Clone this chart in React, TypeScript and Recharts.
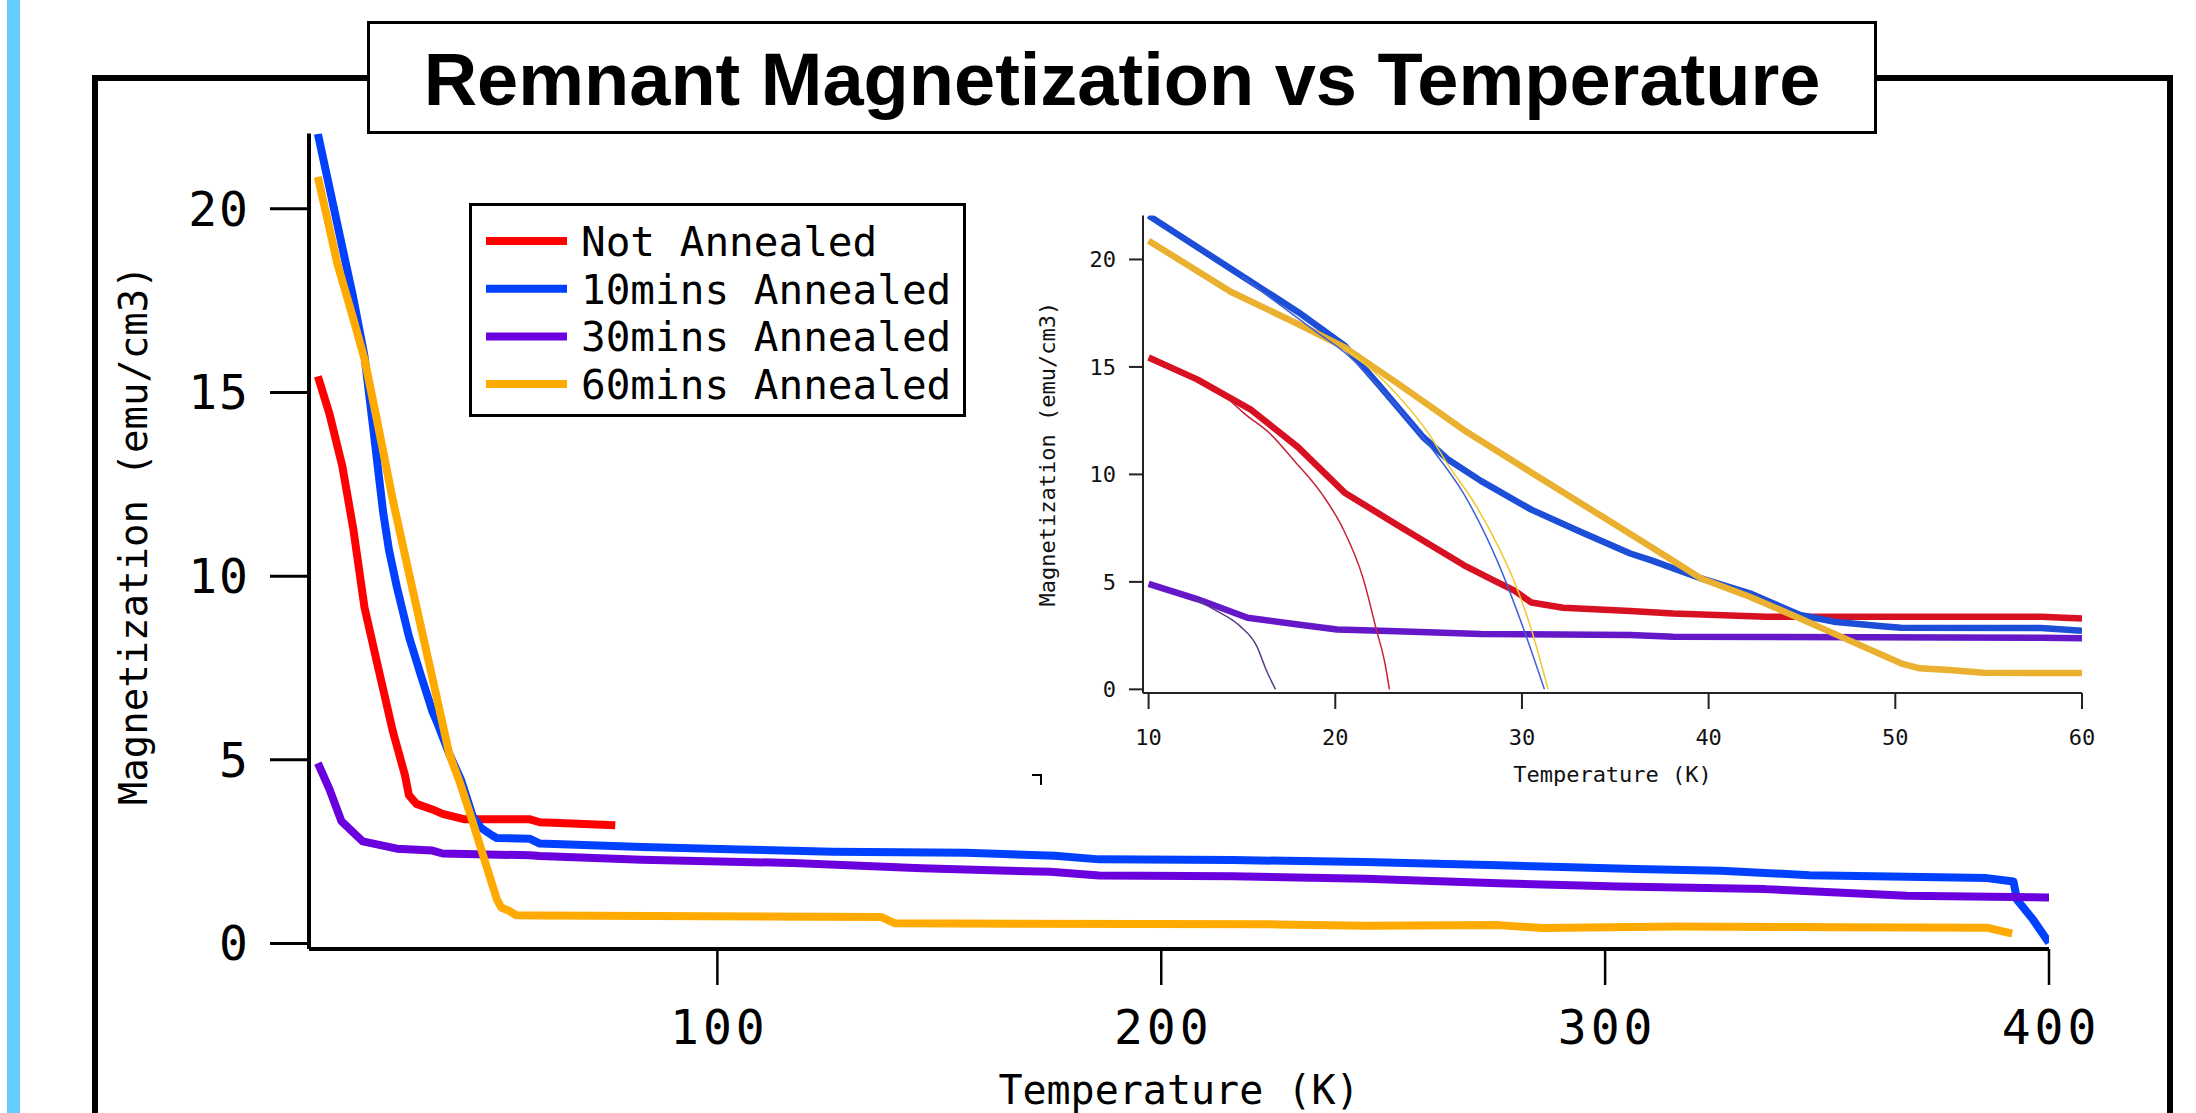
import React from 'react';
import { LineChart, Line, XAxis, YAxis, Legend } from 'recharts';

// ---------- data (temperature K, magnetization emu/cm3) ----------
const seriesNames = ['Not Annealed', '10mins Annealed', '30mins Annealed', '60mins Annealed'];

const notAnnealedT = [10, 12.6, 15.5, 18, 20.5, 23.3, 26.9, 28.7, 29.6, 30.5, 32.2, 35.8, 38.1, 43.1, 57.8, 60, 77];
const notAnnealedM = [15.44, 14.42, 13.0, 11.27, 9.15, 7.66, 5.77, 4.98, 4.59, 4.04, 3.8, 3.65, 3.53, 3.38, 3.38, 3.3, 3.22];

const tenMinT = [10, 14.9, 18, 20.5, 22.4, 24.7, 26, 27.8, 30.5, 33.1, 35.8, 36.9, 39.6, 42.2, 44.9, 46.7, 49.3, 50.3, 57.8, 60,
  83, 105, 126, 156, 176, 186, 216, 246, 276, 307, 326, 346, 386, 392, 392.8, 396.4, 400];
const tenMinM = [22.04, 19.29, 17.56, 15.99, 14.1, 11.74, 10.72, 9.7, 8.36, 7.34, 6.32, 6.01, 5.16, 4.47, 3.46, 3.15, 2.94, 2.87, 2.85, 2.72,
  2.63, 2.56, 2.5, 2.47, 2.39, 2.29, 2.27, 2.22, 2.13, 2.03, 1.98, 1.86, 1.78, 1.69, 1.19, 0.65, 0.02];

const thirtyMinT = [10, 12.6, 15.3, 18, 20.1, 23.3, 27.8, 35.8, 38.1, 57.8, 60, 83, 117, 146, 175, 186, 216, 246, 276, 303, 336, 368, 400.5];
const thirtyMinM = [4.91, 4.2, 3.33, 3.02, 2.78, 2.7, 2.58, 2.53, 2.45, 2.4, 2.38, 2.28, 2.19, 2.05, 1.95, 1.85, 1.83, 1.76, 1.64, 1.55, 1.48, 1.3, 1.25];

const sixtyMinT = [10, 14.4, 18, 20.5, 23.3, 26.9, 30.5, 34.0, 36.9, 39.6, 42.2, 44.9, 47.5, 50.3, 51.3, 52.9, 54.7, 60,
  137, 140, 226, 246, 276, 286, 316, 386, 391.7];
const sixtyMinM = [20.87, 18.5, 17.0, 15.91, 14.26, 12.06, 10.09, 8.2, 6.63, 5.16, 4.31, 3.3, 2.29, 1.21, 0.98, 0.9, 0.77, 0.76,
  0.72, 0.55, 0.52, 0.48, 0.5, 0.42, 0.46, 0.43, 0.27];

// thin extrapolation curves shown only in the inset
const fitRedT = [14.4, 15.1, 16.5, 17.8, 19.3, 20.4, 21.5, 22.2, 22.66, 22.9];
const fitRedM = [13.4, 12.85, 11.9, 10.64, 9.07, 7.5, 5.14, 2.78, 1.21, 0];
const fitBlueT = [15, 19.0, 20.5, 23.3, 25.1, 26.9, 28.7, 30.1, 31.2];
const fitBlueM = [19.2, 16.62, 15.67, 13.16, 11.27, 9.07, 5.93, 2.78, 0];
const fitPurpleT = [12.5, 13.5, 14.9, 15.8, 16.3, 16.8];
const fitPurpleM = [4.2, 3.72, 2.94, 2.0, 0.9, 0];
const fitOrangeT = [20.5, 23, 25, 26, 27.5, 28.7, 29.5, 30.5, 31.4];
const fitOrangeM = [15.9, 14.0, 11.9, 10.5, 8.6, 6.7, 5.2, 2.8, 0];

const mainXTicks = [100, 200, 300, 400];
const mainYTicks = [0, 5, 10, 15, 20];
const insetXTicks = [10, 20, 30, 40, 50, 60];
const insetYTicks = [0, 5, 10, 15, 20];

const mainColors = ['#FF0000', '#0040FF', '#6A00DD', '#FFAA00'];
const insetColors = ['#D81122', '#1D4ED8', '#6418C8', '#EAB030'];
const fitColors = ['#C8203A', '#4060D8', '#5A3A8A', '#F0C830'];

const title = 'Remnant Magnetization vs Temperature';
const xLabel = 'Temperature (K)';
const yLabel = 'Magnetization (emu/cm3)';

// ---------- helpers ----------
const toPoints = (ts: number[], ms: number[]) => ts.map((t, i) => ({ t, m: ms[i] }));
const mainSeries = [
  toPoints(notAnnealedT, notAnnealedM),
  toPoints(tenMinT, tenMinM),
  toPoints(thirtyMinT, thirtyMinM),
  toPoints(sixtyMinT, sixtyMinM),
];
const insetSeries = mainSeries.map((s) => s.filter((p) => p.t <= 60));
const fitSeries = [
  toPoints(fitRedT, fitRedM),
  toPoints(fitBlueT, fitBlueM),
  toPoints(fitPurpleT, fitPurpleM),
  toPoints(fitOrangeT, fitOrangeM),
];

const MONO = '"DejaVu Sans Mono", "Liberation Mono", monospace';

const MainXTick = (props: any) => (
  <text x={props.x + 2} y={props.y} dy={35} textAnchor="middle" fontFamily={MONO} fontSize={48} letterSpacing={4} fill="#000">
    {props.payload.value}
  </text>
);
const MainYTick = (props: any) => (
  <text x={props.x} y={props.y} dy={17} textAnchor="end" fontFamily={MONO} fontSize={48} letterSpacing={2} fill="#000">
    {props.payload.value}
  </text>
);
const InsetXTick = (props: any) => (
  <text x={props.x} y={props.y} dy={16} textAnchor="middle" fontFamily={MONO} fontSize={22} fill="#111">
    {props.payload.value}
  </text>
);
const InsetYTick = (props: any) => (
  <text x={props.x} y={props.y} dy={8} textAnchor="end" fontFamily={MONO} fontSize={22} fill="#111">
    {props.payload.value}
  </text>
);

const makeXLabel = (size: number, off: number, fill: string) => (p: any) => {
  const vb = p.viewBox;
  return (
    <text x={vb.x + vb.width / 2} y={vb.y + off} textAnchor="middle" fontFamily={MONO} fontSize={size} fill={fill}>
      {xLabel}
    </text>
  );
};
const makeYLabel = (size: number, dyc: number, fill: string) => (p: any) => {
  const vb = p.viewBox;
  const cx = vb.x;
  const cy = vb.y + vb.height / 2 + dyc;
  return (
    <text x={cx} y={cy} transform={`rotate(-90 ${cx} ${cy})`} textAnchor="middle" dominantBaseline="central"
      fontFamily={MONO} fontSize={size} fill={fill}>
      {yLabel}
    </text>
  );
};

const LegendBox = (props: any) => {
  const payload = [...(props.payload || [])].sort(
    (a: any, b: any) => seriesNames.indexOf(a.value) - seriesNames.indexOf(b.value)
  );
  return (
    <svg width={497} height={214} style={{ display: 'block' }}>
      <rect x={1.5} y={1.5} width={494} height={211} fill="#fff" stroke="#000" strokeWidth={3} />
      {payload.map((e: any, i: number) => {
        const cy = 38 + i * 47.7;
        return (
          <g key={e.value}>
            <line x1={17} x2={98} y1={cy} y2={cy} stroke={e.color} strokeWidth={8} />
            <text x={112} y={cy + 15} fontFamily={MONO} fontSize={41} fill="#000">{e.value}</text>
          </g>
        );
      })}
    </svg>
  );
};

export default function App() {
  return (
    <div style={{ position: 'absolute', left: 0, top: 0, width: 2196, height: 1113, overflow: 'hidden', background: '#fff' }}>
      <div style={{ position: 'absolute', left: 7, top: 0, width: 13, height: 1113, background: '#66CCFF' }} />
      <div style={{ position: 'absolute', left: 92, top: 75, width: 2081, height: 1200, border: '6px solid #000', boxSizing: 'border-box' }} />

      {/* main chart */}
      <div style={{ position: 'absolute', left: 0, top: 0 }}>
        <LineChart width={2196} height={1113} margin={{ top: 133.5, right: 147, bottom: 0, left: 133 }}>
          <XAxis type="number" dataKey="t" domain={[8, 400]} ticks={mainXTicks} interval={0} allowDataOverflow
            height={164} tickSize={36} tickMargin={24} tick={<MainXTick />}
            axisLine={{ stroke: '#000', strokeWidth: 4 }} tickLine={{ stroke: '#000', strokeWidth: 2.5 }}
            label={makeXLabel(40, 155, '#000')} />
          <YAxis type="number" dataKey="m" domain={[-0.15, 22.05]} ticks={mainYTicks} interval={0} allowDataOverflow
            width={176} tickSize={39} tickMargin={20} tick={<MainYTick />}
            axisLine={{ stroke: '#000', strokeWidth: 4 }} tickLine={{ stroke: '#000', strokeWidth: 3 }}
            label={makeYLabel(39, -6, '#000')} />
          <Legend layout="vertical" align="center" verticalAlign="middle" content={<LegendBox />}
            wrapperStyle={{ left: 469, top: 203, width: 497, height: 214 }} />
          {mainSeries.map((d, i) => (
            <Line key={seriesNames[i]} name={seriesNames[i]} data={d} dataKey="m" type="linear"
              stroke={mainColors[i]} strokeWidth={8} strokeLinejoin="round" dot={false} activeDot={false}
              isAnimationActive={false} />
          ))}
        </LineChart>
      </div>

      {/* inset chart */}
      <div style={{ position: 'absolute', left: 980, top: 180 }}>
        <LineChart width={1150} height={620} margin={{ top: 35.4, right: 48, bottom: 0, left: 68 }}>
          <XAxis type="number" dataKey="t" domain={[9.7, 60]} ticks={insetXTicks} interval={0} allowDataOverflow
            height={107} tickSize={16} tickMargin={20} tick={<InsetXTick />}
            axisLine={{ stroke: '#222', strokeWidth: 2 }} tickLine={{ stroke: '#222', strokeWidth: 2 }}
            label={makeXLabel(22, 89, '#111')} />
          <YAxis type="number" dataKey="m" domain={[-0.17, 22.05]} ticks={insetYTicks} interval={0} allowDataOverflow
            width={95} tickSize={14} tickMargin={13} tick={<InsetYTick />}
            axisLine={{ stroke: '#222', strokeWidth: 2 }} tickLine={{ stroke: '#222', strokeWidth: 2 }}
            label={makeYLabel(22, 0, '#111')} />
          {insetSeries.map((d, i) => (
            <Line key={'in' + i} name={seriesNames[i]} data={d} dataKey="m" type="linear"
              stroke={insetColors[i]} strokeWidth={6.5} strokeLinejoin="round" dot={false} activeDot={false}
              isAnimationActive={false} />
          ))}
          {fitSeries.map((d, i) => (
            <Line key={'fit' + i} name={'fit ' + seriesNames[i]} data={d} dataKey="m" type="monotone"
              stroke={fitColors[i]} strokeWidth={1.5} dot={false} activeDot={false}
              isAnimationActive={false} />
          ))}
        </LineChart>
      </div>

      {/* title box */}
      <div style={{ position: 'absolute', left: 367, top: 21, width: 1510, height: 113, border: '3px solid #000', background: '#fff', boxSizing: 'border-box' }} />
      <svg width={2196} height={1113} style={{ position: 'absolute', left: 0, top: 0, pointerEvents: 'none' }}>
        <text x={1122} y={105} textAnchor="middle" fontFamily='"Liberation Sans", Arial, sans-serif' fontWeight="bold" fontSize={74} fill="#000">
          {title}
        </text>
        <path d="M1032 775 H1041 V785" fill="none" stroke="#000" strokeWidth={2} />
      </svg>
    </div>
  );
}
